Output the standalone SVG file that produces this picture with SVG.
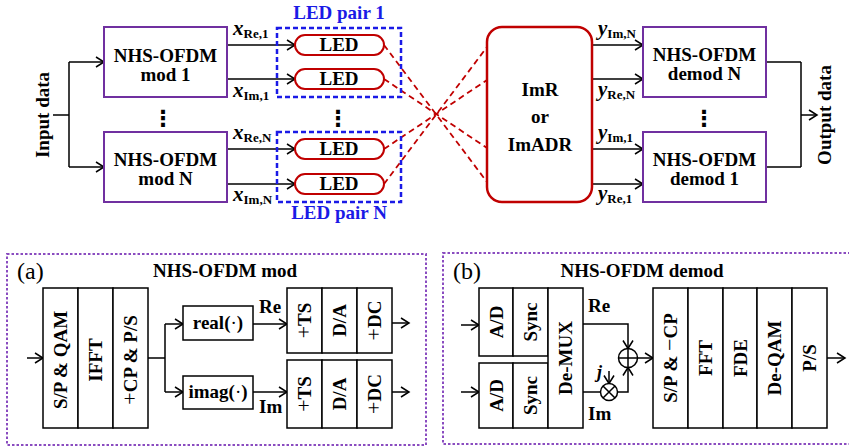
<svg xmlns="http://www.w3.org/2000/svg" width="849" height="447" viewBox="0 0 849 447">
<style>
text { font-family: "Liberation Serif", "Times New Roman", serif; font-weight: bold; fill: #000; font-size: 19px; }
.mid { text-anchor: middle; }
.box { fill: #fff; stroke: #7030a0; stroke-width: 2; }
.led { fill: #fff; stroke: #c00000; stroke-width: 2; }
.imr { fill: #fff; stroke: #c00000; stroke-width: 2.5; }
.pair { fill: none; stroke: #1a1ae6; stroke-width: 2.5; stroke-dasharray: 5 3; }
.wire { fill: none; stroke: #000; stroke-width: 1.5; }
.arr { marker-end: url(#ah); }
.opt { fill: none; stroke: #c00000; stroke-width: 1.8; stroke-dasharray: 6 4; }
.blk { fill: #fff; stroke: #000; stroke-width: 1.5; }
.panel { fill: none; stroke: #8a4cc0; stroke-width: 2; stroke-dasharray: 2.5 2; }
.blue { fill: #1a1ae6; }
.var { font-style: italic; font-size: 21px; }
.sub { font-size: 13px; }
.dots { font-family: "DejaVu Sans", sans-serif; font-weight: bold; font-size: 22px; }
.reg { font-weight: normal; }
.sym { fill: #fff; stroke: #000; stroke-width: 1.5; }
</style>
<defs>
<marker id="ah" markerUnits="userSpaceOnUse" markerWidth="12" markerHeight="12" viewBox="-10 -6 12 12" refX="0" refY="0" orient="auto">
<path d="M-8,-5 L0,0 L-8,5" fill="none" stroke="#000" stroke-width="1.5"/>
</marker>
</defs>

<g id="connectors">
  <path class="wire" d="M53,115 H69 M69,62 V167"/>
  <path class="wire arr" d="M69,62 H104"/>
  <path class="wire arr" d="M69,167 H104"/>
  <path class="wire arr" d="M227,45 H295"/>
  <path class="wire arr" d="M227,79 H295"/>
  <path class="wire arr" d="M227,149 H295"/>
  <path class="wire arr" d="M227,184 H295"/>
  <path class="opt" d="M384,45 L487,182"/>
  <path class="opt" d="M384,79 L487,148"/>
  <path class="opt" d="M384,149 L487,80"/>
  <path class="opt" d="M384,184 L487,47"/>
  <path class="wire arr" d="M592,45 H643"/>
  <path class="wire arr" d="M592,79 H643"/>
  <path class="wire arr" d="M592,149 H643"/>
  <path class="wire arr" d="M592,184 H643"/>
  <path class="wire" d="M766,62 H801 M766,167 H801 M801,62 V167"/>
  <path class="wire arr" d="M801,115 H817"/>

  <path class="wire arr" d="M27,358 H43"/>
  <path class="wire" d="M148,358 H165 M165,324 V392"/>
  <path class="wire arr" d="M165,324 H183"/>
  <path class="wire arr" d="M165,392 H183"/>
  <path class="wire arr" d="M253,324 H287"/>
  <path class="wire arr" d="M253,392 H287"/>
  <path class="wire arr" d="M392,323 H409"/>
  <path class="wire arr" d="M392,392 H409"/>

  <path class="wire arr" d="M461,325 H479"/>
  <path class="wire arr" d="M461,392 H479"/>
  <path class="wire arr" d="M583,324 H628 V348.5"/>
  <path class="wire" d="M583,392 H600.5"/>
  <path class="wire arr" d="M617.5,392 H628 V367.5"/>
  <path class="wire arr" d="M609,371 V383.5"/>
  <path class="wire arr" d="M637.5,358 H653"/>
  <path class="wire arr" d="M827,358 H845"/>
</g>

<g id="input-label">
  <text class="mid" transform="translate(43,115) rotate(-90)" y="6">Input data</text>
</g>

<g id="mod1">
  <rect class="box" x="104" y="27" width="123" height="70"/>
  <text class="mid" x="165.5" y="62">NHS-OFDM</text>
  <text class="mid" x="165.5" y="81">mod 1</text>
</g>
<g id="modN">
  <rect class="box" x="104" y="132" width="123" height="70"/>
  <text class="mid" x="165.5" y="166">NHS-OFDM</text>
  <text class="mid" x="165.5" y="185">mod N</text>
</g>
<g id="mod-dots"><text class="dots mid" x="163" y="126">⋮</text></g>

<g id="tx-labels">
  <text x="233" y="35"><tspan class="var">x</tspan><tspan class="sub" dy="3">Re,1</tspan></text>
  <text x="233" y="97"><tspan class="var">x</tspan><tspan class="sub" dy="3">Im,1</tspan></text>
  <text x="233" y="139"><tspan class="var">x</tspan><tspan class="sub" dy="3">Re,N</tspan></text>
  <text x="233" y="201"><tspan class="var">x</tspan><tspan class="sub" dy="3">Im,N</tspan></text>
</g>

<g id="led-pair-1">
  <rect class="pair" x="277" y="28" width="124" height="69"/>
  <text class="blue mid" x="339" y="19">LED pair 1</text>
  <rect class="led" x="295" y="35" width="89" height="20" rx="10"/>
  <text class="mid" x="339" y="51">LED</text>
  <rect class="led" x="295" y="69" width="89" height="20" rx="10"/>
  <text class="mid" x="339" y="85">LED</text>
</g>
<g id="led-dots"><text class="dots mid" x="338" y="126">⋮</text></g>
<g id="led-pair-N">
  <rect class="pair" x="277" y="132" width="124" height="70"/>
  <text class="blue mid" x="339" y="219">LED pair N</text>
  <rect class="led" x="295" y="139" width="89" height="20" rx="10"/>
  <text class="mid" x="339" y="155">LED</text>
  <rect class="led" x="295" y="174" width="89" height="20" rx="10"/>
  <text class="mid" x="339" y="190">LED</text>
</g>

<g id="receiver">
  <rect class="imr" x="487" y="27" width="105" height="175" rx="15"/>
  <text class="mid" x="540" y="96">ImR</text>
  <text class="mid" x="540" y="123">or</text>
  <text class="mid" x="540" y="151">ImADR</text>
</g>

<g id="rx-labels">
  <text x="598" y="35"><tspan class="var">y</tspan><tspan class="sub" dy="3">Im,N</tspan></text>
  <text x="598" y="96"><tspan class="var">y</tspan><tspan class="sub" dy="3">Re,N</tspan></text>
  <text x="598" y="139"><tspan class="var">y</tspan><tspan class="sub" dy="3">Im,1</tspan></text>
  <text x="598" y="200"><tspan class="var">y</tspan><tspan class="sub" dy="3">Re,1</tspan></text>
</g>

<g id="demodN">
  <rect class="box" x="643" y="27" width="123" height="70"/>
  <text class="mid" x="704.5" y="61">NHS-OFDM</text>
  <text class="mid" x="704.5" y="80">demod N</text>
</g>
<g id="demod-dots"><text class="dots mid" x="704" y="126">⋮</text></g>
<g id="demod1">
  <rect class="box" x="643" y="132" width="123" height="70"/>
  <text class="mid" x="704.5" y="166">NHS-OFDM</text>
  <text class="mid" x="704.5" y="185">demod 1</text>
</g>

<g id="output-label">
  <text class="mid" transform="translate(825,115) rotate(-90)" y="6">Output data</text>
</g>

<g id="panel-a">
  <rect class="panel" x="7" y="254" width="419" height="191"/>
  <text class="reg" x="17" y="279" style="font-size:24px">(a)</text>
  <text class="mid" x="225" y="277">NHS-OFDM mod</text>
</g>
<g id="mod-front">
  <rect class="blk" x="43" y="288" width="35" height="140"/>
  <rect class="blk" x="78" y="288" width="35" height="140"/>
  <rect class="blk" x="113" y="288" width="35" height="140"/>
  <text class="mid" transform="translate(60.5,360) rotate(-90)" y="6.5">S/P &amp; QAM</text>
  <text class="mid" transform="translate(95.5,360) rotate(-90)" y="6.5">IFFT</text>
  <text class="mid" transform="translate(130.5,360) rotate(-90)" y="6.5"><tspan class="reg" style="font-size:22px">+</tspan>CP &amp; P/S</text>
</g>
<g id="real">
  <rect class="blk" x="183" y="306" width="70" height="34"/>
  <text class="mid" x="218" y="329">real(<tspan class="reg">·</tspan>)</text>
  <text x="259" y="313">Re</text>
</g>
<g id="imag">
  <rect class="blk" x="183" y="376" width="70" height="33"/>
  <text class="mid" x="218" y="398">imag(<tspan class="reg">·</tspan>)</text>
  <text x="259" y="413">Im</text>
</g>
<g id="tx-chain-re">
  <rect class="blk" x="287" y="288" width="35" height="65"/>
  <rect class="blk" x="322" y="288" width="35" height="65"/>
  <rect class="blk" x="357" y="288" width="35" height="65"/>
  <text class="mid" transform="translate(304.5,320.5) rotate(-90)" y="6.5"><tspan class="reg" style="font-size:22px">+</tspan>TS</text>
  <text class="mid" transform="translate(339.5,320.5) rotate(-90)" y="6.5">D/A</text>
  <text class="mid" transform="translate(374.5,320.5) rotate(-90)" y="6.5"><tspan class="reg" style="font-size:22px">+</tspan>DC</text>
</g>
<g id="tx-chain-im">
  <rect class="blk" x="287" y="360" width="35" height="68"/>
  <rect class="blk" x="322" y="360" width="35" height="68"/>
  <rect class="blk" x="357" y="360" width="35" height="68"/>
  <text class="mid" transform="translate(304.5,394) rotate(-90)" y="6.5"><tspan class="reg" style="font-size:22px">+</tspan>TS</text>
  <text class="mid" transform="translate(339.5,394) rotate(-90)" y="6.5">D/A</text>
  <text class="mid" transform="translate(374.5,394) rotate(-90)" y="6.5"><tspan class="reg" style="font-size:22px">+</tspan>DC</text>
</g>

<g id="panel-b">
  <rect class="panel" x="443" y="253" width="410" height="191"/>
  <text class="reg" x="453" y="279" style="font-size:24px">(b)</text>
  <text class="mid" x="642" y="277">NHS-OFDM demod</text>
</g>
<g id="rx-front-re">
  <rect class="blk" x="479" y="288" width="34" height="68"/>
  <rect class="blk" x="513" y="288" width="35" height="68"/>
  <text class="mid" transform="translate(496,322) rotate(-90)" y="6.5">A/D</text>
  <text class="mid" transform="translate(530.5,322) rotate(-90)" y="6.5">Sync</text>
</g>
<g id="rx-front-im">
  <rect class="blk" x="479" y="363" width="34" height="65"/>
  <rect class="blk" x="513" y="363" width="35" height="65"/>
  <text class="mid" transform="translate(496,395.5) rotate(-90)" y="6.5">A/D</text>
  <text class="mid" transform="translate(530.5,395.5) rotate(-90)" y="6.5">Sync</text>
</g>
<g id="demux">
  <rect class="blk" x="548" y="288" width="35" height="140"/>
  <text class="mid" transform="translate(565.5,358) rotate(-90)" y="6.5">De-MUX</text>
  <text x="588" y="312">Re</text>
  <text x="588" y="420">Im</text>
</g>
<g id="adder">
  <circle class="sym" cx="628" cy="358" r="9.5"/>
  <path class="wire" d="M618.5,358 H637.5 M628,348.5 V367.5"/>
</g>
<g id="multiplier">
  <circle class="sym" cx="609" cy="392" r="8.5"/>
  <path class="wire" d="M603,386 L615,398 M615,386 L603,398"/>
  <text class="var" x="597" y="378" style="font-size:18px">j</text>
</g>
<g id="rx-back">
  <rect class="blk" x="653" y="288" width="35" height="140"/>
  <rect class="blk" x="688" y="288" width="35" height="140"/>
  <rect class="blk" x="723" y="288" width="34" height="140"/>
  <rect class="blk" x="757" y="288" width="35" height="140"/>
  <rect class="blk" x="792" y="288" width="35" height="140"/>
  <text class="mid" transform="translate(670.5,358) rotate(-90)" y="6.5">S/P &amp; <tspan class="reg" style="font-size:22px">−</tspan>CP</text>
  <text class="mid" transform="translate(705.5,358) rotate(-90)" y="6.5">FFT</text>
  <text class="mid" transform="translate(740,358) rotate(-90)" y="6.5">FDE</text>
  <text class="mid" transform="translate(774.5,358) rotate(-90)" y="6.5">De-QAM</text>
  <text class="mid" transform="translate(809.5,358) rotate(-90)" y="6.5">P/S</text>
</g>
</svg>
